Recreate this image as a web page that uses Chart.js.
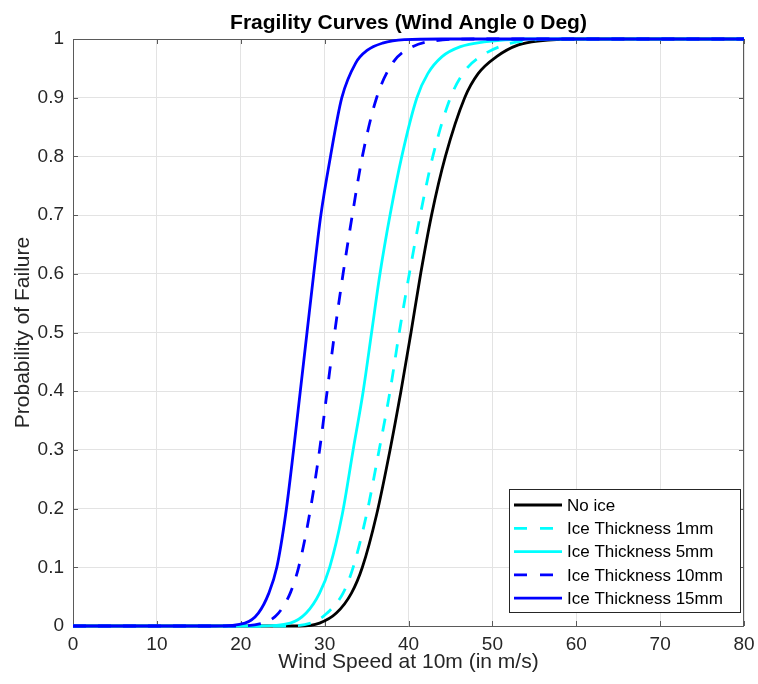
<!DOCTYPE html>
<html>
<head>
<meta charset="utf-8">
<script src="https://cdn.jsdelivr.net/npm/chart.js@4/dist/chart.umd.min.js"></script>
<style>
  html, body { margin: 0; padding: 0; background: #ffffff; }
  #wrap { width: 758px; height: 684px; }
</style>
</head>
<body>
<div id="wrap"><canvas id="chart" width="758" height="684"></canvas></div>
<script>
// Fragility curves: probability of failure vs. wind speed at 10 m, per ice thickness
const xTickValues = [0, 10, 20, 30, 40, 50, 60, 70, 80];
const yTickLabels = ['0', '0.1', '0.2', '0.3', '0.4', '0.5', '0.6', '0.7', '0.8', '0.9', '1'];

const noIceSpeed = [0, 27, 29.4, 31.4, 33.2, 34.5, 36.2, 37.8, 39.1, 40.3, 41.45, 42.75, 44.4, 46.7, 48.3, 50.5, 53.1, 55.7, 60, 80];
const noIceProb  = [0, 0, 0.005, 0.022, 0.056, 0.1, 0.19, 0.3, 0.4, 0.5, 0.6, 0.7, 0.8, 0.9, 0.941, 0.97, 0.99, 0.997, 1, 1];

const ice1Speed = [0, 25, 28.4, 30.3, 32.2, 33.4, 35.0, 36.5, 37.8, 38.9, 40.1, 41.4, 42.9, 45.0, 46.8, 48.9, 51.5, 54.5, 58, 80];
const ice1Prob  = [0, 0, 0.005, 0.022, 0.056, 0.1, 0.19, 0.3, 0.4, 0.5, 0.6, 0.7, 0.8, 0.9, 0.947, 0.973, 0.99, 0.998, 1, 1];

const ice5Speed = [0, 22, 25.9, 27.8, 29.4, 30.6, 32.1, 33.4, 34.6, 35.6, 36.6, 37.8, 39.2, 41.0, 42.3, 44.0, 46.2, 49.0, 54, 80];
const ice5Prob  = [0, 0, 0.005, 0.022, 0.056, 0.1, 0.19, 0.3, 0.4, 0.5, 0.6, 0.7, 0.8, 0.9, 0.941, 0.97, 0.987, 0.995, 1, 1];

const ice10Speed = [0, 19, 22.7, 24.5, 25.9, 26.9, 28.2, 29.4, 30.3, 31.2, 32.2, 33.3, 34.5, 36.2, 38.2, 40.1, 43.1, 48, 80];
const ice10Prob  = [0, 0, 0.005, 0.022, 0.056, 0.1, 0.19, 0.3, 0.4, 0.5, 0.6, 0.7, 0.8, 0.9, 0.961, 0.984, 0.997, 1, 1];

const ice15Speed = [0, 17, 20.5, 22.1, 23.35, 24.3, 25.35, 26.3, 27.1, 27.9, 28.7, 29.55, 30.7, 32.05, 33.7, 35.1, 36.9, 39.5, 44, 80];
const ice15Prob  = [0, 0, 0.005, 0.022, 0.056, 0.1, 0.19, 0.3, 0.4, 0.5, 0.6, 0.7, 0.8, 0.9, 0.959, 0.981, 0.993, 0.999, 1, 1];

const seriesLabels = ['No ice', 'Ice Thickness 1mm', 'Ice Thickness 5mm', 'Ice Thickness 10mm', 'Ice Thickness 15mm'];

const FONT = '"Liberation Sans", Arial, Helvetica, sans-serif';
const TEXT = '#262626';
const DASH = [13, 12];

function pts(xs, ys) { return xs.map((x, i) => ({ x: x, y: ys[i] })); }

function curve(label, xs, ys, color, dashed, order) {
  return {
    label: label,
    data: pts(xs, ys),
    borderColor: color,
    backgroundColor: color,
    borderWidth: 2.8,
    borderDash: dashed ? DASH : [],
    pointRadius: 0,
    cubicInterpolationMode: 'monotone',
    fill: false,
    clip: false,
    order: order
  };
}

// Axes box with inward tick marks on all four sides (drawn beneath the curves)
const boxPlugin = {
  id: 'axesBox',
  beforeDatasetsDraw(chart) {
    const { ctx, chartArea: a, scales } = chart;
    ctx.save();
    ctx.strokeStyle = '#5a5a5a';
    ctx.lineWidth = 1;
    ctx.beginPath();
    ctx.rect(Math.round(a.left) + 0.5, Math.round(a.top) + 0.5,
             Math.round(a.right - a.left) - 1, Math.round(a.bottom - a.top));
    ctx.stroke();
    const len = 5;
    ctx.beginPath();
    scales.x.ticks.forEach(t => {
      const px = Math.round(scales.x.getPixelForValue(t.value)) + 0.5;
      ctx.moveTo(px, a.bottom); ctx.lineTo(px, a.bottom - len);
      ctx.moveTo(px, a.top); ctx.lineTo(px, a.top + len);
    });
    scales.y.ticks.forEach(t => {
      const py = Math.round(scales.y.getPixelForValue(t.value)) + 0.5;
      ctx.moveTo(a.left, py); ctx.lineTo(a.left + len, py);
      ctx.moveTo(a.right, py); ctx.lineTo(a.right - len, py);
    });
    ctx.stroke();
    ctx.restore();
  }
};

// Legend box in the lower-right corner of the plot area
const legendPlugin = {
  id: 'cornerLegend',
  afterDatasetsDraw(chart) {
    const { ctx, chartArea: a } = chart;
    const right = a.right - 4, bottom = a.bottom - 14;
    const w = 231, h = 123;
    const left = right - w, top = bottom - h;
    ctx.save();
    ctx.fillStyle = '#ffffff';
    ctx.fillRect(left, top, w, h);
    ctx.strokeStyle = '#262626';
    ctx.lineWidth = 1;
    ctx.strokeRect(Math.round(left) + 0.5, Math.round(top) + 0.5, Math.round(w), Math.round(h));
    ctx.font = '17px ' + FONT;
    ctx.textBaseline = 'middle';
    ctx.textAlign = 'left';
    chart.data.datasets.forEach((ds, i) => {
      const y = top + 16 + i * 23.3;
      ctx.strokeStyle = ds.borderColor;
      ctx.lineWidth = 2.8;
      ctx.setLineDash(ds.borderDash.length ? [13, 13] : []);
      ctx.beginPath();
      ctx.moveTo(left + 5, y);
      ctx.lineTo(left + 53, y);
      ctx.stroke();
      ctx.setLineDash([]);
      ctx.fillStyle = '#000000';
      ctx.fillText(ds.label, left + 58, y + 1);
    });
    ctx.restore();
  }
};

new Chart(document.getElementById('chart'), {
  type: 'line',
  data: {
    datasets: [
      curve(seriesLabels[0], noIceSpeed, noIceProb, '#000000', false, 5),
      curve(seriesLabels[1], ice1Speed, ice1Prob, '#00ffff', true, 4),
      curve(seriesLabels[2], ice5Speed, ice5Prob, '#00ffff', false, 3),
      curve(seriesLabels[3], ice10Speed, ice10Prob, '#0000ff', true, 2),
      curve(seriesLabels[4], ice15Speed, ice15Prob, '#0000ff', false, 1)
    ]
  },
  options: {
    responsive: false,
    animation: false,
    devicePixelRatio: 1,
    layout: { padding: { left: 0, right: 14, top: 0, bottom: 0 } },
    plugins: {
      legend: { display: false },
      tooltip: { enabled: false },
      title: {
        display: true,
        text: 'Fragility Curves (Wind Angle 0 Deg)',
        fullSize: false,
        color: '#000000',
        font: { family: FONT, size: 21, weight: 'bold', lineHeight: 1.2 },
        padding: { top: 11, bottom: 2.8 }
      }
    },
    scales: {
      x: {
        type: 'linear',
        min: 0, max: 80,
        afterBuildTicks(scale) { scale.ticks = xTickValues.map(v => ({ value: v })); },
        afterFit(scale) { scale.height = 58; scale.paddingLeft = 0; scale.paddingRight = 0; },
        grid: { color: '#e3e3e3', drawTicks: false, lineWidth: 1 },
        border: { display: false },
        ticks: {
          color: TEXT, padding: 7, maxRotation: 0,
          font: { family: FONT, size: 19 },
          callback: v => String(v)
        },
        title: {
          display: true, text: 'Wind Speed at 10m (in m/s)', color: TEXT,
          font: { family: FONT, size: 21, lineHeight: 1.2 },
          padding: { top: 0, bottom: 9.6 }
        }
      },
      y: {
        type: 'linear',
        min: 0, max: 1,
        afterBuildTicks(scale) { scale.ticks = yTickLabels.map((s, i) => ({ value: i / 10 })); },
        afterFit(scale) { scale.width = 73; scale.paddingTop = 0; scale.paddingBottom = 0; },
        grid: { color: '#e3e3e3', drawTicks: false, lineWidth: 1 },
        border: { display: false },
        ticks: {
          color: TEXT, padding: 9,
          font: { family: FONT, size: 19 },
          callback: v => yTickLabels[Math.round(v * 10)]
        },
        title: {
          display: true, text: 'Probability of Failure', color: TEXT,
          font: { family: FONT, size: 21, lineHeight: 1.2 },
          padding: { top: 10.5, bottom: 0 }
        }
      }
    }
  },
  plugins: [boxPlugin, legendPlugin]
});
</script>
</body>
</html>
